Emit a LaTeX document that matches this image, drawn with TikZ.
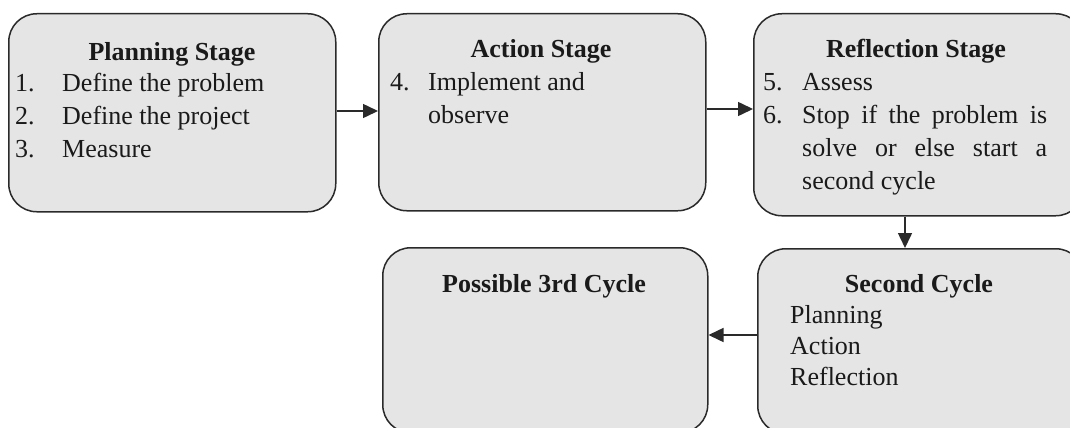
\documentclass[tikz,border=0pt]{standalone}
\usepackage{fontspec}
\setmainfont{Liberation Serif}
\usetikzlibrary{arrows.meta}
\definecolor{boxfill}{HTML}{E5E5E5}
\definecolor{boxline}{HTML}{2A2A2A}
\definecolor{txt}{HTML}{1A1A1A}
\begin{document}
\begin{tikzpicture}[x=1pt,y=-1pt,
  stagebox/.style={draw=boxline,fill=boxfill,line width=1.5pt,rounded corners=28pt,
    rectangle,anchor=north west,inner sep=0pt},
  ttl/.style={font=\fontsize{26}{33}\selectfont\bfseries,text=txt,anchor=base,inner sep=0pt},
  itm/.style={font=\fontsize{26}{33}\selectfont,text=txt,anchor=base west,inner sep=0pt},
  conn/.style={draw=boxline,line width=1.5pt,-{Triangle[length=15pt,width=14pt]}}]
\useasboundingbox (0,0) rectangle (1070,428);
\clip (0,0) rectangle (1070,428);
% boxes
\node[stagebox,minimum width=327pt,minimum height=198pt] (plan) at (8,13) {};
\node[stagebox,minimum width=327pt,minimum height=197pt] (act) at (378,13) {};
\node[stagebox,minimum width=330pt,minimum height=202pt] (refl) at (753,13) {};
\node[stagebox,minimum width=325pt,minimum height=185pt] (third) at (382,247) {};
\node[stagebox,minimum width=326pt,minimum height=185pt] (second) at (757,248) {};
% planning text
\node[ttl] (t1) at (172,60) {Planning Stage};
\node[itm] (n1) at (15,91) {1.};
\node[itm] (l1) at (62,91) {Define the problem};
\node[itm] (n2) at (15,124) {2.};
\node[itm] (l2) at (62,124) {Define the project};
\node[itm] (n3) at (15,157) {3.};
\node[itm] (l3) at (62,157) {Measure};
% action text
\node[ttl] (t2) at (541,58) {Action Stage};
\node[itm] (n4) at (390,90) {4.};
\node[itm] (l4) at (428,90) {Implement and};
\node[itm] (l4b) at (428,123) {observe};
% reflection text
\node[ttl] (t3) at (916,58) {Reflection Stage};
\node[itm] (n5) at (763,90) {5.};
\node[itm] (l5) at (802,90) {Assess};
\node[itm] (n6) at (763,123) {6.};
\node[itm,text width=245pt,align=justify] (l6) at (802,123) {\hyphenpenalty=10000 Stop if the problem is\linebreak solve or else start a\linebreak second cycle};
% third cycle
\node[ttl] (t4) at (544,292) {Possible 3rd Cycle};
% second cycle
\node[ttl] (t5) at (919,292) {Second Cycle};
\node[itm] (s1) at (790,323) {Planning};
\node[itm] (s2) at (790,354) {Action};
\node[itm] (s3) at (790,385) {Reflection};
% connectors
\draw[conn] (plan.east |- 0,111) -- (act.west |- 0,111);
\draw[conn] (act.east |- 0,109) -- (refl.west |- 0,109);
\draw[conn] (905,0 |- refl.south) -- (905,0 |- second.north);
\draw[conn] (second.west |- 0,335) -- (third.east |- 0,335);
\end{tikzpicture}
\end{document}
